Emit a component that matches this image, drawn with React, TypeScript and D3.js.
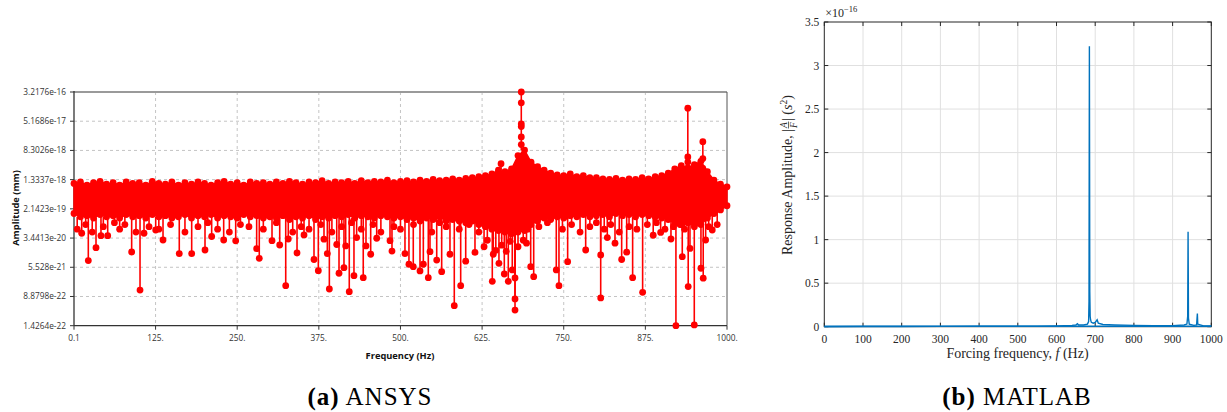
import React from "react";
import * as d3 from "d3";

// ---- panel (a) ANSYS ----
const ansysXTicks = [0.1, 125, 250, 375, 500, 625, 750, 875, 1000];
const ansysXLabels = ["0.1", "125.", "250.", "375.", "500.", "625.", "750.", "875.", "1000."];
const ansysYLabels = [
  "3.2176e-16", "5.1686e-17", "8.3026e-18", "1.3337e-18", "2.1423e-19",
  "3.4413e-20", "5.528e-21", "8.8798e-22", "1.4264e-22",
];

// noise band read every 10 Hz: top edge (x1e-18 mm) and bottom edge (x1e-19 mm)
const envStep = 10;
const bandTop = [
  1.05, 1.15, 0.95, 1.1, 1.2, 1.0, 1.1, 0.95, 1.15, 1.05,
  1.1, 0.95, 1.2, 1.05, 1.0, 1.15, 0.95, 1.1, 1.0, 1.15,
  1.05, 0.95, 1.1, 1.2, 1.0, 1.1, 0.95, 1.15, 1.05, 1.1,
  1.0, 1.15, 1.05, 1.2, 1.1, 1.0, 1.15, 1.1, 1.25, 1.05,
  1.15, 1.1, 1.2, 1.05, 1.25, 1.1, 1.2, 1.15, 1.3, 1.1,
  1.2, 1.25, 1.15, 1.3, 1.2, 1.35, 1.25, 1.3, 1.4, 1.3,
  1.45, 1.5, 1.6, 1.7, 1.9, 2.4, 2.2, 2.6, 6.0, 8.5,
  4.0, 3.0, 2.4, 2.0, 1.8, 1.7, 1.9, 1.6, 1.7, 1.5,
  1.5, 1.4, 1.35, 1.45, 1.3, 1.4, 1.35, 1.5, 1.4, 1.6,
  1.7, 2.0, 2.6, 3.2, 2.8, 3.4, 4.2, 2.2, 1.3, 1.0,
  0.85,
];
const bandBottom = [
  1.6, 1.3, 1.4, 1.2, 1.5, 1.3, 1.4, 1.2, 1.5, 1.3,
  1.4, 1.2, 1.5, 1.3, 1.4, 1.2, 1.3, 1.5, 1.2, 1.4,
  1.3, 1.5, 1.2, 1.4, 1.3, 1.2, 1.5, 1.3, 1.4, 1.2,
  1.3, 1.2, 1.4, 1.1, 1.3, 1.2, 1.4, 1.1, 1.3, 1.2,
  1.4, 1.3, 1.5, 1.2, 1.4, 1.3, 1.2, 1.4, 1.3, 1.2,
  1.3, 1.1, 1.2, 1.0, 1.2, 1.1, 1.3, 1.0, 1.1, 1.0,
  0.9, 1.0, 0.8, 0.7, 0.6, 0.55, 0.5, 0.45, 0.5, 0.55,
  0.8, 1.0, 1.2, 1.1, 1.3, 1.2, 1.4, 1.3, 1.5, 1.3,
  1.4, 1.5, 1.3, 1.6, 1.4, 1.5, 1.3, 1.5, 1.4, 1.3,
  1.2, 1.1, 0.9, 0.8, 0.9, 0.7, 0.8, 1.2, 1.6, 2.0,
  2.6,
];

// downward spikes below the band
const dipFreq = [
  11.9, 22, 33.8, 41.4, 51.7, 88.4, 101.2, 107.3, 125.2, 136.4,
  161.3, 180.3, 200.7, 210.9, 229.3, 247.7, 279.8, 283.8, 303.3, 315.1,
  324.3, 328.2, 341.6, 352.3, 367.6, 374.2, 382.9, 388, 391.1, 402.4,
  405.9, 413.5, 416.1, 421.6, 428.8, 432.9, 443, 447.2, 454.4, 463.6,
  484, 487, 506.9, 513, 519.6, 529.9, 535, 542.6, 545.2, 555.5,
  563.1, 575.8, 582.4, 592.2, 599.9, 614.1, 628, 633, 640.6, 642.1,
  646, 650.8, 655, 659, 662, 665.1, 668, 671.2, 675.4, 675.4,
  675.4, 680, 688, 693, 699.4, 704, 738.6, 742.7, 756, 783.6,
  806.6, 806.6, 816.7, 828.5, 838.7, 846.4, 855.5, 870.8, 887, 898.4,
  914.2, 921.8, 931.5, 940.6, 943.3, 949.9, 960.1, 963.6, 967.3, 977.4,
  5, 18, 28, 45, 62, 70, 78, 95, 115, 130,
  148, 170, 190, 205, 220, 238, 255, 268, 290, 310,
  335, 348, 360, 378, 395, 410, 425, 440, 458, 470,
  490, 500, 520, 548, 560, 570, 590, 605, 620, 695,
  712, 725, 748, 762, 775, 790, 800, 812, 822, 835,
  850, 862, 878, 892, 905, 918, 928, 935, 955, 972, 985,
];
const dipAmp = [
  4.65e-20, 8.4e-21, 1.89e-20, 4.0e-20, 4.0e-20, 1.44e-20, 1.33e-21, 4.65e-20, 5.7e-20, 3.05e-20,
  1.3e-20, 1.3e-20, 1.63e-20, 3.8e-20, 3.05e-20, 2.9e-20, 1.77e-20, 9.7e-21, 2.92e-20, 2.23e-20,
  1.75e-21, 3.25e-20, 1.35e-20, 4.2e-20, 9.0e-21, 4.47e-21, 3.2e-20, 1.3e-20, 1.42e-21, 2.3e-20,
  3.8e-21, 5.39e-21, 2.1e-20, 1.2e-21, 3.27e-21, 3.55e-20, 2.88e-21, 2.1e-20, 1.25e-20, 3.4e-20,
  2.92e-20, 1.52e-20, 1.3e-20, 6.67e-21, 5.74e-21, 4.4e-21, 6.67e-21, 2.88e-21, 1.47e-20, 8.7e-21,
  4.2e-21, 1.25e-20, 4.99e-22, 1.75e-21, 8.1e-21, 1.4e-20, 2.0e-20, 3.0e-20, 2.3e-21, 1.25e-20,
  1.6e-20, 7.1e-21, 2.2e-20, 3.63e-21, 1.5e-20, 2.3e-21, 2.8e-20, 4.67e-21, 2.83e-21, 7.6e-22,
  3.8e-22, 2.0e-20, 3.0e-20, 2.5e-20, 5.74e-21, 3.07e-21, 4.67e-21, 1.75e-21, 7.85e-21, 1.63e-20,
  1.2e-20, 8.1e-22, 3.55e-20, 2.5e-20, 9.0e-21, 1.42e-20, 2.88e-21, 1.155e-21, 4.1e-20, 4.9e-20,
  3.25e-20, 1.4264e-22, 1.07e-20, 1.65e-21, 1.8e-20, 1.5e-22, 5.2e-21, 2.8e-21, 3.05e-20, 5.7e-20,
  6e-20, 8e-20, 5e-20, 7e-20, 9e-20, 6e-20, 8e-20, 5e-20, 7e-20, 6e-20,
  8e-20, 5e-20, 7e-20, 9e-20, 6e-20, 5e-20, 8e-20, 7e-20, 6e-20, 9e-20,
  5e-20, 7e-20, 6e-20, 8e-20, 5e-20, 7e-20, 9e-20, 6e-20, 8e-20, 5e-20,
  7e-20, 6e-20, 8e-20, 5e-20, 9e-20, 7e-20, 6e-20, 8e-20, 5e-20, 6e-20,
  7e-20, 9e-20, 6e-20, 8e-20, 5e-20, 7e-20, 9e-20, 6e-20, 8e-20, 5e-20,
  7e-20, 6e-20, 8e-20, 9e-20, 6e-20, 7e-20, 8e-20, 6e-20, 9e-20, 7e-20, 8e-20,
];

// upward resonance spikes, markers along each stem
const peakFreq = [654, 685, 940, 963];
const peakAmp = [
  [3.6e-18],
  [3.2176e-16, 1.63e-16, 4.36e-17, 3.7e-17, 1.93e-17, 1.2e-17],
  [1.17e-16, 5.5e-18, 4.0e-18],
  [1.44e-17, 4.97e-18, 2.7e-18],
];

// ---- panel (b) MATLAB ----
const matXTicks = [0, 100, 200, 300, 400, 500, 600, 700, 800, 900, 1000];
const matYTicks = [0, 0.5, 1, 1.5, 2, 2.5, 3, 3.5];
const matFreq = [
  0, 100, 200, 300, 400, 450, 500, 550, 600, 620, 640, 650, 654, 657, 670, 680, 683,
  684, 685, 686, 687, 688, 690, 695, 700, 705, 708, 720, 750, 800, 850, 900, 930,
  937, 939, 940, 941, 943, 955, 962, 964, 965, 980, 1000,
];
const matAmp = [ // x1e-16
  0, 0.003, 0.003, 0.004, 0.005, 0.006, 0.006, 0.007, 0.01, 0.012, 0.015, 0.02, 0.035, 0.02, 0.02, 0.03, 0.06,
  0.29, 3.22, 0.4, 0.12, 0.08, 0.05, 0.04, 0.05, 0.08, 0.04, 0.025, 0.02, 0.015, 0.012, 0.012, 0.02,
  0.03, 0.12, 1.09, 0.1, 0.03, 0.015, 0.02, 0.15, 0.03, 0.01, 0.01,
];

const RED = "#ff0000";
const BLUE = "#0072bd";
const SANS = "'Open Sans', 'Noto Sans', sans-serif";
const SERIF = "'Liberation Serif', 'DejaVu Serif', serif";

export default function App() {
  const aX = d3.scaleLinear().domain([0.1, 1000]).range([74, 727]);
  const aY = d3.scaleLog().domain([1.4264e-22, 3.2176e-16]).range([325.7, 92]);
  const bX = d3.scaleLinear().domain([0, 1000]).range([824.3, 1211.3]);
  const bY = d3.scaleLinear().domain([0, 3.5]).range([326.7, 22]);

  const band = bandTop.map((t, i) => ({
    f: Math.max(0.1, i * envStep),
    top: t * 1e-18,
    bot: bandBottom[i] * 1e-19,
  }));
  const bandArea = d3
    .area<{ f: number; top: number; bot: number }>()
    .x((d) => aX(d.f))
    .y0((d) => aY(d.bot))
    .y1((d) => aY(d.top));
  const near = (f: number) => band[Math.min(band.length - 1, Math.round(f / envStep))];

  const matLine = d3
    .line<number>()
    .x((d, i) => bX(matFreq[i]))
    .y((d) => bY(d));

  const [aL, aR, aT, aB] = [74, 727, 92, 325.7];
  const [bL, bR, bT, bB] = [824.3, 1211.3, 22, 326.7];

  return (
    <div style={{ position: "absolute", left: 0, top: 0 }}>
      <svg width={1227} height={412} style={{ display: "block", background: "#fff" }}>
        {/* ===== (a) ANSYS ===== */}
        <g>
          {ansysXTicks.slice(1, -1).map((t) => (
            <line key={t} x1={aX(t)} x2={aX(t)} y1={aT} y2={aB} stroke="#c4c4c4" strokeDasharray="3,3" />
          ))}
          {ansysYLabels.slice(1, -1).map((s) => (
            <line key={s} x1={aL} x2={aR} y1={aY(+s)} y2={aY(+s)} stroke="#c4c4c4" strokeDasharray="3,3" />
          ))}
          <line x1={aL} x2={aR} y1={aT} y2={aT} stroke="#9a9a9a" strokeWidth={2} />
          <line x1={aR} x2={aR} y1={aT} y2={aB} stroke="#555" strokeWidth={1} />
          <line x1={aL} x2={aL} y1={aT - 1} y2={aB} stroke="#333" strokeWidth={1.3} />
          <line x1={aL} x2={aR} y1={aB} y2={aB} stroke="#333" strokeWidth={1.3} />
          {ansysYLabels.map((s) => (
            <g key={s}>
              <line x1={aL - 4} x2={aL} y1={aY(+s)} y2={aY(+s)} stroke="#333" />
              <text x={aL - 8} y={aY(+s)} dy="0.35em" textAnchor="end" fontSize={8.3} fontFamily={SANS} fill="#333">
                {s}
              </text>
            </g>
          ))}
          {ansysXTicks.map((t, i) => (
            <g key={t}>
              <line x1={aX(t)} x2={aX(t)} y1={aB} y2={aB + 4} stroke="#333" />
              <text x={aX(t)} y={aB + 15} textAnchor="middle" fontSize={8.3} fontFamily={SANS} fill="#333">
                {ansysXLabels[i]}
              </text>
            </g>
          ))}
          <text
            transform={`translate(19,208) rotate(-90)`}
            textAnchor="middle"
            fontSize={9.3}
            fontWeight="bold"
            fontFamily={SANS}
            fill="#111"
          >
            Amplitude (mm)
          </text>
          <text x={400} y={359} textAnchor="middle" fontSize={9.3} fontWeight="bold" fontFamily={SANS} fill="#111">
            Frequency (Hz)
          </text>

          {/* data */}
          <path d={bandArea(band) || ""} fill={RED} stroke={RED} strokeWidth={1.5} />
          {dipFreq.map((f, i) => (
            <line key={"dl" + i} x1={aX(f)} x2={aX(f)} y1={aY(near(f).bot)} y2={aY(dipAmp[i])} stroke={RED} strokeWidth={1.6} />
          ))}
          {peakFreq.map((f, i) => (
            <line key={"pl" + i} x1={aX(f)} x2={aX(f)} y1={aY(near(f).top)} y2={aY(d3.max(peakAmp[i]) as number)} stroke={RED} strokeWidth={1.6} />
          ))}
          {band.map((d, i) => (
            <g key={"bm" + i}>
              <circle cx={aX(d.f)} cy={aY(d.top)} r={3.4} fill={RED} />
              <circle cx={aX(d.f)} cy={aY(d.bot)} r={3.4} fill={RED} />
            </g>
          ))}
          {dipFreq.map((f, i) => (
            <circle key={"dm" + i} cx={aX(f)} cy={aY(dipAmp[i])} r={3.4} fill={RED} />
          ))}
          {peakFreq.map((f, i) =>
            peakAmp[i].map((v, j) => <circle key={`pm${i}-${j}`} cx={aX(f)} cy={aY(v)} r={3.4} fill={RED} />)
          )}

          <text x={370} y={405} textAnchor="middle" fontSize={25} letterSpacing={1} fontFamily={SERIF} fill="#000">
            <tspan fontWeight="bold">(a)</tspan>
            <tspan> ANSYS</tspan>
          </text>
        </g>

        {/* ===== (b) MATLAB ===== */}
        <g fontFamily={SERIF}>
          {matXTicks.slice(1, -1).map((t) => (
            <line key={t} x1={bX(t)} x2={bX(t)} y1={bT} y2={bB} stroke="#e0e0e0" strokeWidth={1} />
          ))}
          {matYTicks.slice(1, -1).map((t) => (
            <line key={t} x1={bL} x2={bR} y1={bY(t)} y2={bY(t)} stroke="#e0e0e0" strokeWidth={1} />
          ))}
          <rect x={bL} y={bT} width={bR - bL} height={bB - bT} fill="none" stroke="#262626" strokeWidth={1} />
          {matXTicks.map((t) => (
            <g key={t}>
              <line x1={bX(t)} x2={bX(t)} y1={bB} y2={bB - 4} stroke="#262626" />
              <line x1={bX(t)} x2={bX(t)} y1={bT} y2={bT + 4} stroke="#262626" />
              <text x={bX(t)} y={bB + 16} textAnchor="middle" fontSize={11.5} fill="#262626">
                {t}
              </text>
            </g>
          ))}
          {matYTicks.map((t) => (
            <g key={t}>
              <line x1={bL} x2={bL + 4} y1={bY(t)} y2={bY(t)} stroke="#262626" />
              <line x1={bR} x2={bR - 4} y1={bY(t)} y2={bY(t)} stroke="#262626" />
              <text x={bL - 5} y={bY(t)} dy="0.35em" textAnchor="end" fontSize={11.5} fill="#262626">
                {t}
              </text>
            </g>
          ))}
          <path d={matLine(matAmp) || ""} fill="none" stroke={BLUE} strokeWidth={1.4} />
          <line x1={bL} x2={bR} y1={bB - 0.5} y2={bB - 0.5} stroke={BLUE} strokeWidth={1.6} />
          <text x={bL + 1} y={17} fontSize={12} fill="#262626">
            ×10
            <tspan fontSize={8.5} dy={-5}>−16</tspan>
          </text>
          <g transform={`translate(792,175) rotate(-90)`} fill="#262626" fontSize={14}>
            <text x={46} y={0} textAnchor="end">Response Amplitude, |</text>
            <text x={50} y={-5} textAnchor="middle" fontSize={9.5} fontStyle="italic">A</text>
            <line x1={46.5} x2={53.5} y1={-3.5} y2={-3.5} stroke="#262626" strokeWidth={0.7} />
            <text x={50} y={4.5} textAnchor="middle" fontSize={9.5} fontStyle="italic">F</text>
            <text x={54} y={0}>
              | (<tspan fontStyle="italic">s</tspan>
              <tspan fontSize={9.5} dy={-5}>2</tspan>
              <tspan dy={5}>)</tspan>
            </text>
          </g>
          <text x={1017.5} y={358} textAnchor="middle" fontSize={14} fill="#262626">
            Forcing frequency, <tspan fontStyle="italic">f</tspan> (Hz)
          </text>
          <text x={1017} y={405} textAnchor="middle" fontSize={25} letterSpacing={1} fill="#000">
            <tspan fontWeight="bold">(b)</tspan>
            <tspan> MATLAB</tspan>
          </text>
        </g>
      </svg>
    </div>
  );
}
